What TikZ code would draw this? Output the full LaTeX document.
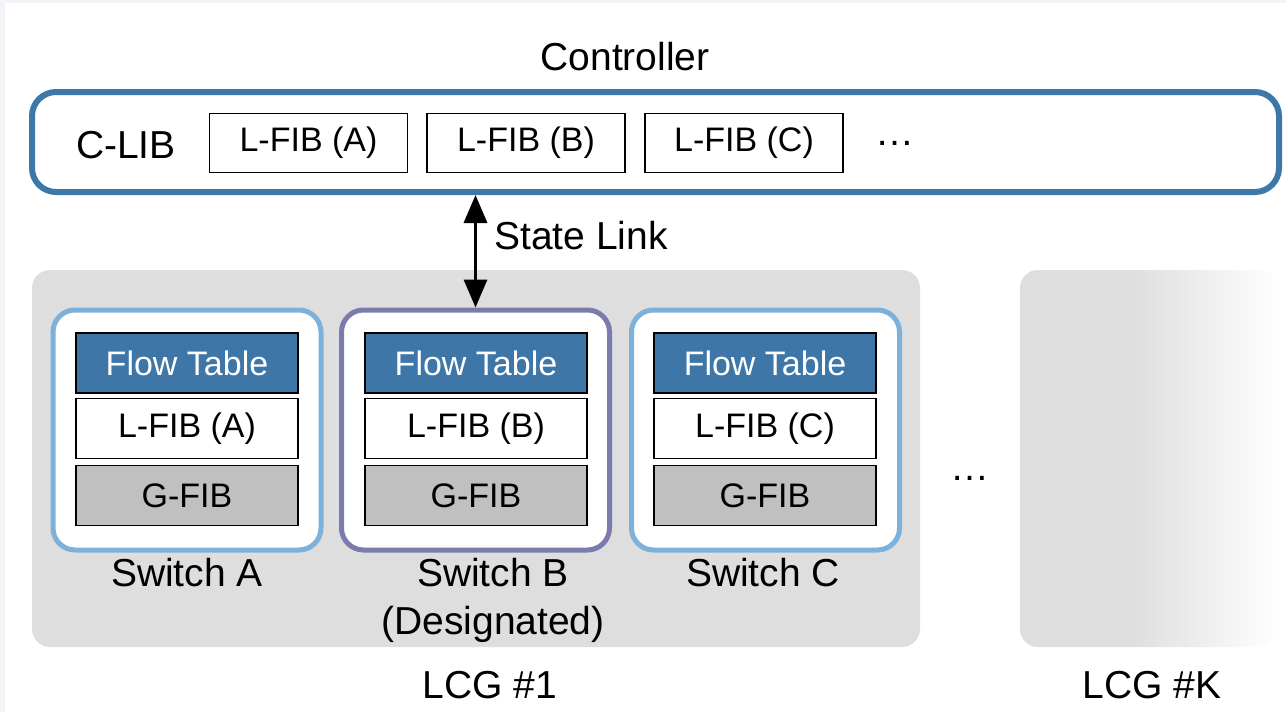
\documentclass[tikz,border=0pt]{standalone}
\usepackage{fontspec}
\setmainfont{Liberation Sans}
\usetikzlibrary{arrows.meta}
\definecolor{ctrlblue}{HTML}{3E78AA}
\definecolor{ftblue}{HTML}{3F76A8}
\definecolor{swblue}{HTML}{7DB1DA}
\definecolor{swpurple}{HTML}{7B7BAD}
\definecolor{lcggray}{HTML}{DEDEDE}
\definecolor{gfibgray}{HTML}{C0C0C0}
\definecolor{edgegray}{HTML}{F2F4F8}
\pgfdeclarehorizontalshading{lcgkshade}{100bp}{color(0bp)=(lcggray); color(25bp)=(lcggray); color(46bp)=(lcggray); color(75bp)=(white); color(100bp)=(white)}
\tikzset{
  bigtxt/.style={font=\fontsize{39}{48}\selectfont, inner sep=0pt},
  boxtxt/.style={font=\fontsize{34}{40}\selectfont},
  fibbox/.style={draw=black, line width=1.6pt, fill=white, minimum width=198pt, minimum height=59pt, inner sep=0pt, boxtxt},
  layer/.style={draw=black, line width=1.6pt, minimum width=222pt, minimum height=60pt, inner sep=0pt, boxtxt},
  flowtab/.style={layer, fill=ftblue, text=white},
  lfib/.style={layer, fill=white},
  gfib/.style={layer, fill=gfibgray},
  switchbox/.style={draw=#1, line width=5pt, fill=white, rounded corners=22pt, minimum width=268pt, minimum height=240pt, inner sep=0pt},
  lcg/.style={rounded corners=18pt, minimum width=#1, minimum height=377pt, inner sep=0pt},
}
\begin{document}
\begin{tikzpicture}[x=1pt, y=-1pt]
\useasboundingbox (0,0) rectangle (1287,712);
\fill[edgegray] (0,0) rectangle (1287,712);
\fill[white] (5,3) rectangle (1287,712);

% controller
\node[bigtxt] (ctrltitle) at (625,57) {Controller};
\node[draw=ctrlblue, line width=6pt, rounded corners=24pt, minimum width=1247pt, minimum height=100pt, inner sep=0pt, fill=white] (ctrl) at (655.5,142) {};
\node[bigtxt] (clib) at (126,145) {C-LIB};
\node[fibbox] (cfa) at (308.5,143) {L-FIB (A)};
\node[fibbox] (cfb) at (526,143) {L-FIB (B)};
\node[fibbox] (cfc) at (744,143) {L-FIB (C)};
\node[bigtxt] (cdots) at (895,143) {…};

% LCG #1
\node[lcg=888pt, fill=lcggray] (lcg1) at (476,458.5) {};
\node[bigtxt] (lcg1lbl) at (490,685) {LCG \#1};

% LCG #K
\node[lcg=258pt, shading=lcgkshade] (lcgk) at (1149,458.5) {};
\node[bigtxt] (lcgklbl) at (1152,685) {LCG \#K};
\node[bigtxt] (mdots) at (970,478) {…};

% switches
\node[switchbox=swblue] (swA) at (187,430) {};
\node[switchbox=swpurple] (swB) at (475.5,430) {};
\node[switchbox=swblue] (swC) at (765.5,430) {};

\node[flowtab] (ftA) at (187,363) {Flow Table};
\node[lfib] (lfA) at (187,428.5) {L-FIB (A)};
\node[gfib] (gfA) at (187,495.5) {G-FIB};

\node[flowtab] (ftB) at (476,363) {Flow Table};
\node[lfib] (lfB) at (476,428.5) {L-FIB (B)};
\node[gfib] (gfB) at (476,495.5) {G-FIB};

\node[flowtab] (ftC) at (765,363) {Flow Table};
\node[lfib] (lfC) at (765,428.5) {L-FIB (C)};
\node[gfib] (gfC) at (765,495.5) {G-FIB};

\node[bigtxt] (lblA) at (187,573) {Switch A};
\node[bigtxt, align=center] (lblB) at (493,600) {Switch B\\(Designated)};
\node[bigtxt] (lblC) at (763,573) {Switch C};

% state link
\draw[line width=3.5pt, {Triangle[width=23pt,length=28pt]}-{Triangle[width=23pt,length=28pt]}] (swB.north |- ctrl.south) -- (swB.north);
\node[bigtxt, anchor=west] (statelink) at (494,236) {State Link};
\end{tikzpicture}
\end{document}
